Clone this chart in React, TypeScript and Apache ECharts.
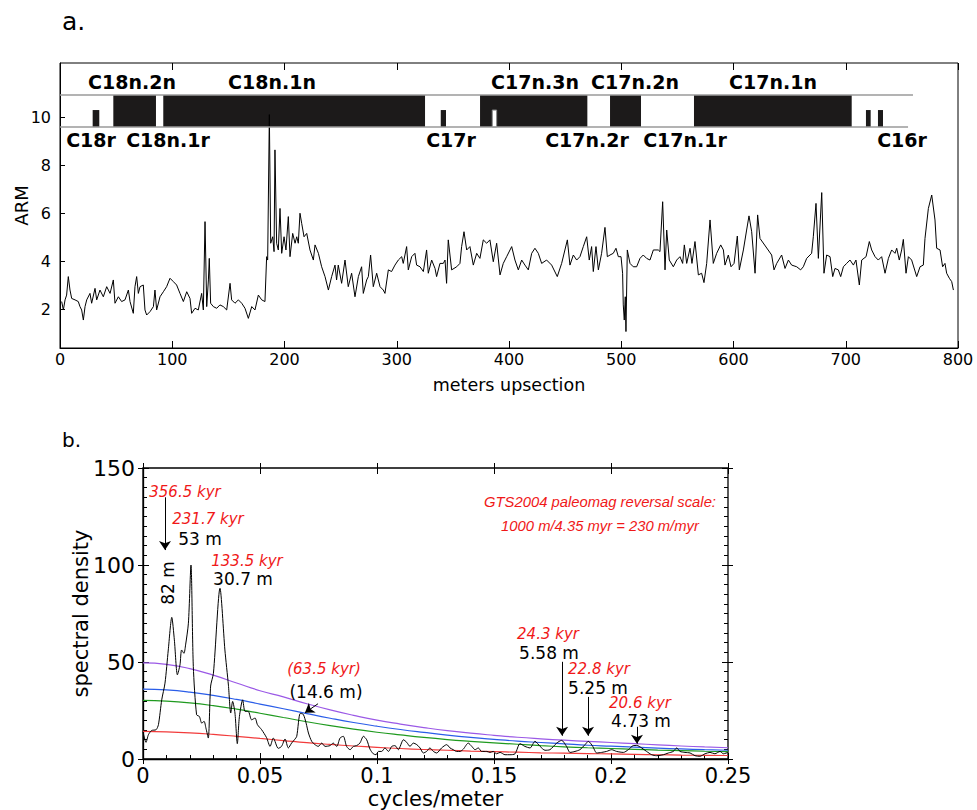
import React, { useEffect, useRef } from "react";
import * as echarts from "echarts";

const FONT = "DejaVu Sans";
const NOTE_FONT = "Liberation Sans";

// ---------- panel a: ARM versus meters upsection ----------
const armDepth = [
  1.5, 3.0, 4.5, 5.9, 7.4, 8.9, 10.4, 13.4, 16.3, 17.8, 19.3, 20.8, 22.3, 23.8, 26.7, 28.2, 31.2, 32.7, 35.6, 38.6,
  41.6, 44.6, 47.5, 49.0, 52.0, 54.9, 57.9, 60.9, 62.4, 65.3, 66.8, 68.3, 69.8, 71.3, 74.2, 75.7, 77.2, 80.2, 83.2, 84.6,
  86.1, 89.1, 92.1, 95.0, 98.0, 101.0, 103.9, 106.9, 109.9, 112.9, 115.8, 117.3, 120.3, 123.2, 126.2, 127.7, 129.2, 130.7, 132.2, 133.0,
  134.2, 136.6, 139.6, 142.5, 145.5, 148.5, 151.5, 152.9, 155.9, 158.9, 161.9, 164.8, 167.8, 170.8, 173.7, 176.7, 179.7, 182.6, 184.1, 185.0,
  186.5, 187.7, 189.5, 190.7, 191.5, 193.0, 194.5, 196.0, 197.5, 199.6, 201.3, 203.4, 204.9, 207.3, 209.4, 210.9, 212.3, 213.8, 215.3, 217.4,
  219.8, 222.7, 225.7, 227.2, 230.2, 233.1, 236.1, 239.1,
  242.0, 245.0, 246.4, 247.9, 250.9, 253.9, 256.8, 259.8, 262.8, 265.8, 268.7, 270.2, 273.2, 274.7, 276.7, 279.1, 282.1, 285.1, 288.0, 289.5,
  292.5, 295.4, 298.4, 301.4, 304.4, 305.8, 308.8, 310.3, 313.3, 316.2, 317.7, 320.7, 323.7, 326.6, 328.1, 331.1, 334.1, 335.5, 338.5, 341.5,
  343.0, 344.4, 345.9, 348.9, 353.4, 356.3, 357.8, 359.9, 362.3, 365.2, 368.2, 371.2, 374.1, 377.1, 380.1, 383.0, 386.0, 389.0, 392.0, 394.9,
  397.9, 402.4, 405.3, 408.3, 411.3, 414.2, 417.2, 420.2, 423.1, 426.1, 429.1, 433.5, 438.0, 443.0, 446.9, 452.0, 454.3, 457.3, 460.3, 463.2,
  466.2, 469.2, 471.5, 473.6, 475.1, 477.5, 479.6, 482.5, 485.5, 487.6, 490.0, 492.9, 495.3, 497.4, 499.8, 501.2, 501.8, 502.7, 503.6, 504.2,
  505.4, 507.8, 510.7, 513.7, 516.7, 519.6, 522.6, 525.6,
  528.6, 533.0, 534.5, 536.9, 539.0, 540.5, 542.8, 546.4, 549.4, 552.3, 554.7, 556.2, 558.3, 561.3, 563.0, 565.7, 568.7, 571.6, 573.7, 576.1,
  579.1, 582.0, 585.0, 588.6, 591.0, 592.4, 595.4, 597.8, 600.5, 603.4, 605.2, 608.8, 611.7, 613.8, 616.2, 619.2, 621.5, 623.6, 634.0, 636.1,
  638.5, 642.9, 645.9, 648.9, 651.8, 656.3, 659.8, 662.2, 665.2, 669.6, 671.1, 673.5, 675.6, 678.6, 680.6, 683.0, 686.0, 688.4, 690.4, 693.4,
  695.5, 697.9, 700.8, 703.8, 706.8, 709.1, 712.1, 714.2, 718.1, 721.0, 723.1, 726.1, 729.0, 732.0, 735.0, 738.0, 740.9, 743.9, 745.4, 747.7,
  749.8, 751.3, 753.7, 755.8, 758.7, 763.2, 766.2, 769.1, 770.6, 773.6, 776.6, 779.5, 781.0, 784.0, 786.3, 788.4, 789.9, 792.3, 794.4, 795.9,
];
const armValue = [
  2.31, 1.96, 2.38, 2.58, 3.35, 2.79, 2.44, 2.38, 2.31, 2.10, 1.96, 1.54, 2.10, 2.38, 2.65, 2.24, 2.86, 2.38, 2.79, 2.51,
  2.93, 2.65, 3.21, 2.24, 2.51, 2.31, 2.38, 2.79, 2.31, 1.82, 2.93, 3.35, 2.65, 2.93, 3.00, 1.96, 1.75, 1.89, 2.10, 2.79,
  1.96, 2.51, 2.72, 2.93, 3.28, 3.14, 3.00, 2.65, 2.31, 2.72, 2.44, 1.82, 2.03, 1.96, 2.65, 1.96, 5.64, 2.10, 3.21, 4.11,
  2.24, 2.10, 2.03, 2.17, 2.10, 1.96, 3.07, 2.38, 2.24, 2.38, 2.24, 2.03, 1.61, 2.10, 1.96, 2.58, 2.38, 2.31, 4.18, 4.04,
  10.1, 4.74, 5.01, 4.39, 8.63, 4.74, 4.46, 6.19, 4.32, 5.01, 4.46, 5.85, 4.18, 5.15, 4.74, 5.01, 4.74, 5.99, 5.57, 5.01,
  5.15, 4.46, 4.04, 4.67, 4.32, 3.76, 3.35, 2.79,
  3.35, 3.83, 3.21, 3.83, 3.07, 4.04, 2.93, 3.49, 2.51, 3.35, 3.76, 2.65, 3.21, 3.35, 4.25, 2.93, 3.49, 2.93, 2.79, 2.65,
  3.63, 3.56, 3.83, 4.04, 4.18, 3.90, 4.60, 3.63, 4.18, 4.32, 3.83, 3.76, 3.56, 4.46, 3.49, 4.04, 3.69, 3.35, 3.90, 3.90,
  4.04, 3.07, 4.88, 3.63, 3.76, 3.90, 4.60, 5.22, 4.46, 4.60, 3.83, 4.32, 4.11, 4.88, 4.74, 4.88, 3.97, 4.74, 3.42, 3.90,
  4.18, 4.60, 4.04, 3.63, 4.04, 3.83, 3.63, 4.32, 4.53, 4.32, 3.90, 4.04, 3.83, 3.35, 3.90, 4.88, 3.83, 4.25, 4.04, 4.18,
  4.60, 5.01, 4.04, 4.60, 3.56, 4.60, 3.63, 4.32, 5.40, 4.18, 4.25, 4.32, 4.53, 4.18, 4.18, 3.49, 2.17, 1.54, 2.51, 1.06,
  4.46, 3.90, 3.76, 3.76, 4.11, 4.25, 4.11, 4.04,
  4.46, 4.46, 4.39, 6.47, 3.63, 5.29, 4.04, 3.76, 4.04, 4.18, 3.90, 4.67, 3.90, 4.53, 3.90, 4.81, 3.42, 3.49, 3.10, 3.90,
  5.71, 3.90, 4.32, 4.67, 4.46, 3.83, 4.25, 3.76, 3.90, 5.04, 3.63, 4.46, 5.29, 5.88, 5.22, 3.49, 5.92, 4.94, 4.25, 3.63,
  3.90, 4.25, 3.69, 4.04, 3.83, 3.76, 3.63, 3.76, 4.11, 4.32, 5.01, 6.40, 4.11, 6.85, 3.49, 4.25, 4.18, 3.35, 3.69, 3.63,
  3.35, 3.76, 3.90, 4.04, 3.83, 4.04, 3.00, 4.04, 4.18, 4.81, 4.46, 4.18, 4.04, 4.18, 3.49, 4.11, 4.46, 4.32, 4.53, 4.04,
  4.46, 4.90, 3.49, 4.18, 4.04, 3.35, 3.76, 3.83, 4.94, 6.19, 6.75, 5.71, 4.53, 4.46, 3.76, 3.90, 3.49, 3.28, 3.14, 2.79,
];
const armTickValues = [2, 4, 6, 8, 10];

// polarity column (meters)
const normalChrons = [[47.5, 85.5], [92.0, 325.2], [374.2, 469.8], [490.0, 517.6], [564.8, 705.3]];
const shortNormalEvents = [[29.1, 35.0], [339.2, 343.9], [718.0, 722.2], [728.7, 733.2]];
const shortReversedEvents = [[385.1, 389.0]];
const polarityBottom = 9.58;
const polarityTop = 10.92;
const shortEventTop = 10.29;
const polarityEndTop = 759.9;
const polarityEndBottom = 755.5;
const chronLabelsAbove = ["C18n.2n", "C18n.1n", "C17n.3n", "C17n.2n", "C17n.1n"];
const chronLabelsBelow = ["C18r", "C18n.1r", "C17r", "C17n.2r", "C17n.1r", "C16r"];

// ---------- panel b: spectrum ----------
const specFreq = [
  0, 0.0013, 0.0023, 0.0037, 0.0056, 0.0066, 0.008, 0.0094, 0.0108, 0.0123, 0.0134, 0.0147, 0.0158, 0.0165, 0.0175, 0.0182,
  0.0194, 0.0205, 0.0215, 0.0229, 0.0241, 0.0251, 0.0261, 0.0269, 0.0279, 0.0289, 0.0301, 0.0329, 0.035, 0.0365, 0.0375, 0.0383,
  0.0393, 0.0403, 0.0412, 0.0426, 0.0436, 0.045, 0.0464, 0.0479, 0.0489, 0.0507, 0.0528, 0.0543, 0.0557, 0.0578, 0.0592, 0.0607,
  0.0621, 0.0635, 0.0647, 0.0657, 0.0672, 0.0685, 0.0697, 0.0707, 0.0721, 0.0735, 0.0749, 0.0764, 0.0778, 0.0799, 0.0813, 0.0828,
  0.0842, 0.0856, 0.087, 0.0885, 0.0899, 0.0913, 0.0927, 0.0942, 0.0956, 0.097, 0.0984, 0.0996, 0.1006, 0.102, 0.1034, 0.1049,
  0.1063, 0.1077, 0.1091, 0.1113, 0.1127, 0.1141, 0.1155, 0.117, 0.1184, 0.1198, 0.1212, 0.1226, 0.1241, 0.1255, 0.1276, 0.1298,
  0.1312, 0.1326, 0.134, 0.1355, 0.1369, 0.139, 0.1405, 0.1419, 0.1433, 0.1447, 0.1469, 0.1483, 0.1497, 0.1511, 0.1526, 0.1547,
  0.1568, 0.159, 0.1611, 0.1632, 0.1654, 0.1675, 0.1697, 0.1718, 0.1739, 0.1768, 0.1789, 0.181, 0.1825, 0.1846, 0.1867, 0.1889,
  0.1903, 0.1922, 0.1939, 0.196, 0.1981, 0.2003, 0.2024, 0.2053, 0.2074, 0.2095, 0.211, 0.2131, 0.2152, 0.2174, 0.2195, 0.2224,
  0.2245, 0.2266, 0.2281, 0.2295, 0.2316, 0.2338, 0.2359, 0.238, 0.2402, 0.2423, 0.2444, 0.2466, 0.248, 0.25,
];
const specDensity = [
  14.0, 8.6, 12.5, 14.7, 15.1, 17.7, 30.5, 39.1, 56.2, 73.0, 61.4, 43.4, 48.5, 56.2, 54.5, 58.8,
  70.0, 100.0, 47.7, 22.8, 21.9, 18.5, 19.4, 15.9, 10.8, 37.6, 44.2, 88.0, 56.2, 38.1, 23.7, 29.7,
  23.7, 7.9, 21.9, 30.5, 24.5, 24.5, 20.2, 21.1, 17.7, 15.1, 11.0, 6.5, 10.8, 5.5, 6.5, 10.3,
  5.7, 8.2, 9.9, 11.7, 23.5, 23.0, 18.5, 13.4, 9.1, 7.4, 6.5, 8.2, 6.5, 6.9, 8.2, 6.5,
  10.8, 11.7, 6.5, 4.8, 6.5, 6.9, 8.2, 11.7, 9.9, 5.1, 2.7, 2.2, 3.9, 3.9, 5.7, 3.9,
  6.5, 6.9, 4.8, 9.9, 8.6, 6.5, 8.2, 7.4, 5.7, 3.1, 3.9, 5.7, 3.9, 3.1, 5.7, 7.4,
  5.7, 4.8, 3.9, 3.9, 5.1, 8.2, 6.5, 4.8, 5.7, 3.9, 3.9, 3.4, 3.9, 2.7, 3.4, 2.2,
  2.2, 2.7, 7.9, 6.5, 5.7, 9.1, 6.5, 4.5, 4.8, 8.2, 9.6, 6.5, 3.4, 3.9, 4.8, 7.4,
  9.1, 6.5, 3.1, 3.4, 3.9, 4.8, 3.9, 3.4, 4.8, 6.9, 7.0, 5.7, 3.9, 2.2, 1.7, 2.2,
  3.1, 3.9, 5.7, 3.9, 3.4, 3.1, 1.7, 1.4, 2.7, 3.4, 2.7, 3.9, 2.7, 3.4,
];
const confFreq = [0, 0.01, 0.02, 0.03, 0.04, 0.05, 0.06, 0.07, 0.08, 0.09, 0.1, 0.11, 0.12, 0.13, 0.14, 0.15, 0.16, 0.17, 0.18, 0.19, 0.2, 0.21, 0.22, 0.23, 0.24, 0.25];
const confPurple = [49.5, 48.8, 46.6, 43.2, 39.2, 35.2, 32.0, 28.5, 25.3, 22.5, 20.0, 18.0, 16.2, 14.6, 13.3, 12.2, 11.2, 10.4, 9.7, 9.1, 8.5, 7.9, 7.3, 6.7, 6.2, 5.8];
const confBlue = [36.0, 35.6, 34.5, 32.8, 30.7, 28.3, 25.9, 23.4, 21.0, 18.8, 16.9, 15.2, 13.7, 12.3, 11.1, 10.1, 9.2, 8.5, 7.8, 7.1, 6.6, 6.1, 5.6, 5.2, 4.8, 4.5];
const confGreen = [30.2, 29.8, 28.9, 27.5, 25.7, 23.6, 21.4, 19.2, 17.2, 15.4, 13.8, 12.4, 11.1, 10.0, 9.1, 8.3, 7.6, 6.9, 6.3, 5.8, 5.4, 5.0, 4.6, 4.3, 4.0, 3.8];
const confRed = [14.2, 14.0, 13.5, 12.7, 11.7, 10.6, 9.5, 8.4, 7.5, 6.7, 6.0, 5.4, 4.9, 4.5, 4.1, 3.8, 3.5, 3.2, 3.0, 2.8, 2.6, 2.4, 2.2, 2.0, 1.9, 1.8];

// arrows: [fromFreq, fromDensity, toFreq, toDensity]
const arrowSegments = [
  [0.0094, 134.9, 0.0094, 107.7],
  [0.0748, 28.5, 0.0692, 23.8],
  [0.1791, 50.1, 0.1791, 12.0],
  [0.1902, 32.0, 0.1902, 12.0],
  [0.2111, 16.6, 0.2111, 7.9],
];

const RED = "#f01818";

function txt(text: string, x: number, y: number, size: number, opts: any = {}) {
  return {
    type: "text",
    x,
    y,
    rotation: opts.rotation || 0,
    silent: true,
    z: 100,
    style: {
      text,
      fill: opts.color || "#000",
      fontSize: size,
      fontFamily: opts.family || FONT,
      fontStyle: opts.italic ? "italic" : "normal",
      fontWeight: opts.bold ? "bold" : "normal",
      align: opts.align || "center",
      verticalAlign: "middle",
    },
  };
}

function zip(a: number[], b: number[]) {
  return a.map((v, i) => [v, b[i]]);
}

export default function App() {
  const ref = useRef<HTMLDivElement>(null);

  useEffect(() => {
    if (!ref.current) return;
    const chart = echarts.init(ref.current, null, { renderer: "svg" });

    const barAreas: any[] = [];
    normalChrons.forEach(([a, b]) =>
      barAreas.push([{ coord: [a, polarityBottom], itemStyle: { color: "#1c1a1a", opacity: 1 } }, { coord: [b, polarityTop] }])
    );
    shortNormalEvents.forEach(([a, b]) =>
      barAreas.push([{ coord: [a, polarityBottom], itemStyle: { color: "#1c1a1a", opacity: 1 } }, { coord: [b, shortEventTop] }])
    );
    shortReversedEvents.forEach(([a, b]) =>
      barAreas.push([
        { coord: [a, polarityBottom], itemStyle: { color: "#ffffff", opacity: 1, borderColor: "#888", borderWidth: 1 } },
        { coord: [b, shortEventTop] },
      ])
    );

    const blackAxis = { color: "#000", width: 1 };
    const hidden = { show: false };

    const option: any = {
      animation: false,
      backgroundColor: "#ffffff",
      textStyle: { fontFamily: FONT, color: "#000" },
      grid: [
        { left: 60, top: 63, width: 898, height: 285, show: true, borderColor: "#000", borderWidth: 1, containLabel: false, outerBoundsMode: "none" },
        { left: 143, top: 468, width: 585, height: 291, show: true, borderColor: "#000", borderWidth: 1.3, containLabel: false, outerBoundsMode: "none" },
      ],
      xAxis: [
        {
          type: "value", gridIndex: 0, min: 0, max: 800, interval: 100, position: "bottom",
          axisLine: { show: true, onZero: false, lineStyle: blackAxis },
          axisTick: { show: true, inside: true, length: 7, lineStyle: blackAxis },
          axisLabel: { color: "#000", fontSize: 16, margin: 3, fontFamily: FONT },
          splitLine: hidden,
          name: "meters upsection", nameLocation: "middle", nameGap: 28, nameMoveOverlap: false,
          nameTextStyle: { color: "#000", fontSize: 17.5, fontFamily: FONT },
        },
        {
          type: "value", gridIndex: 0, min: 0, max: 800, interval: 100, position: "top",
          axisLine: { show: false, onZero: false },
          axisTick: { show: true, inside: true, length: 7, lineStyle: blackAxis },
          axisLabel: hidden, splitLine: hidden,
        },
        {
          type: "value", gridIndex: 1, min: 0, max: 0.25, interval: 0.05, position: "bottom",
          axisLine: { show: true, onZero: false, lineStyle: { color: "#000", width: 1.3 } },
          axisTick: { show: true, inside: true, length: 6, lineStyle: blackAxis },
          minorTick: { show: true, splitNumber: 5, length: 4, lineStyle: blackAxis },
          axisLabel: { color: "#000", fontSize: 21, margin: 6, fontFamily: FONT },
          splitLine: hidden,
          name: "cycles/meter", nameLocation: "middle", nameGap: 29, nameMoveOverlap: false,
          nameTextStyle: { color: "#000", fontSize: 21, fontFamily: FONT },
        },
        {
          type: "value", gridIndex: 1, min: 0, max: 0.25, interval: 0.05, position: "bottom",
          axisLine: { show: false, onZero: false },
          axisTick: { show: true, inside: false, length: 5, lineStyle: blackAxis },
          axisLabel: hidden, splitLine: hidden,
        },
        {
          type: "value", gridIndex: 1, min: 0, max: 0.25, interval: 0.05, position: "top",
          axisLine: { show: false, onZero: false },
          axisTick: { show: true, inside: true, length: 6, lineStyle: blackAxis },
          axisLabel: hidden, splitLine: hidden,
        },
        {
          type: "value", gridIndex: 1, min: 0, max: 0.25, interval: 0.05, position: "top",
          axisLine: { show: false, onZero: false },
          axisTick: { show: true, inside: false, length: 5, lineStyle: blackAxis },
          axisLabel: hidden, splitLine: hidden,
        },
      ],
      yAxis: [
        {
          type: "value", gridIndex: 0, min: 0.375, max: 12.25, position: "left",
          axisLine: { show: true, onZero: false, lineStyle: blackAxis },
          axisTick: { show: true, inside: true, length: 5, lineStyle: blackAxis, customValues: armTickValues },
          axisLabel: { color: "#000", fontSize: 16, margin: 9, fontFamily: FONT, customValues: armTickValues },
          splitLine: hidden,
          name: "ARM", nameLocation: "middle", nameGap: 30, nameMoveOverlap: false,
          nameTextStyle: { color: "#000", fontSize: 18, fontFamily: FONT },
        },
        {
          type: "value", gridIndex: 1, min: 0, max: 150, interval: 50, position: "left",
          axisLine: { show: true, onZero: false, lineStyle: { color: "#000", width: 1.3 } },
          axisTick: { show: true, inside: true, length: 6, lineStyle: blackAxis },
          minorTick: { show: true, splitNumber: 10, length: 4, lineStyle: blackAxis },
          axisLabel: { color: "#000", fontSize: 22, margin: 8, fontFamily: FONT },
          splitLine: hidden,
          name: "spectral density", nameLocation: "middle", nameGap: 52, nameMoveOverlap: false,
          nameTextStyle: { color: "#000", fontSize: 21, fontFamily: FONT },
        },
        {
          type: "value", gridIndex: 1, min: 0, max: 150, interval: 50, position: "left",
          axisLine: { show: false, onZero: false },
          axisTick: { show: true, inside: false, length: 5, lineStyle: blackAxis },
          axisLabel: hidden, splitLine: hidden,
        },
        {
          type: "value", gridIndex: 1, min: 0, max: 150, interval: 50, position: "right",
          axisLine: { show: false, onZero: false },
          axisTick: { show: true, inside: true, length: 6, lineStyle: blackAxis },
          minorTick: { show: true, splitNumber: 10, length: 4, lineStyle: blackAxis },
          axisLabel: hidden, splitLine: hidden,
        },
        {
          type: "value", gridIndex: 1, min: 0, max: 150, interval: 50, position: "right",
          axisLine: { show: false, onZero: false },
          axisTick: { show: true, inside: false, length: 5, lineStyle: blackAxis },
          axisLabel: hidden, splitLine: hidden,
        },
      ],
      series: [
        {
          type: "line", name: "ARM", xAxisIndex: 0, yAxisIndex: 0,
          data: zip(armDepth, armValue),
          symbol: "none", showSymbol: false,
          lineStyle: { color: "#000", width: 1 },
          z: 3,
          markArea: { silent: true, label: { show: false }, itemStyle: { color: "#1c1a1a", opacity: 1 }, data: barAreas },
          markLine: {
            silent: true, symbol: ["none", "none"], label: { show: false },
            lineStyle: { color: "#9a9a9a", width: 1.5, type: "solid" },
            data: [
              [{ coord: [0, polarityTop] }, { coord: [polarityEndTop, polarityTop] }],
              [{ coord: [0, polarityBottom] }, { coord: [polarityEndBottom, polarityBottom] }],
            ],
          },
        },
        { type: "line", xAxisIndex: 2, yAxisIndex: 1, data: zip(confFreq, confPurple), smooth: true, symbol: "none", lineStyle: { color: "#9b59e6", width: 1.2 } },
        { type: "line", xAxisIndex: 2, yAxisIndex: 1, data: zip(confFreq, confBlue), smooth: true, symbol: "none", lineStyle: { color: "#2a5de8", width: 1.2 } },
        { type: "line", xAxisIndex: 2, yAxisIndex: 1, data: zip(confFreq, confGreen), smooth: true, symbol: "none", lineStyle: { color: "#1f9a1f", width: 1.2 } },
        { type: "line", xAxisIndex: 2, yAxisIndex: 1, data: zip(confFreq, confRed), smooth: true, symbol: "none", lineStyle: { color: "#f23b3b", width: 1.2 } },
        {
          type: "line", xAxisIndex: 2, yAxisIndex: 1, data: zip(specFreq, specDensity),
          smooth: 0.25, symbol: "none", lineStyle: { color: "#000", width: 1 }, z: 5,
          markLine: {
            silent: true, symbol: ["none", "arrow"], symbolSize: 9, label: { show: false },
            lineStyle: { color: "#000", width: 1, type: "solid" },
            data: arrowSegments.map(([f1, s1, f2, s2]) => [{ coord: [f1, s1] }, { coord: [f2, s2] }]),
          },
        },
      ],
      graphic: [
        txt("a.", 62, 21, 25, { align: "left" }),
        txt(chronLabelsAbove[0], 132, 82, 19, { bold: true }),
        txt(chronLabelsAbove[1], 272, 82, 19, { bold: true }),
        txt(chronLabelsAbove[2], 535, 82, 19, { bold: true }),
        txt(chronLabelsAbove[3], 635, 82, 19, { bold: true }),
        txt(chronLabelsAbove[4], 773, 82, 19, { bold: true }),
        txt(chronLabelsBelow[0], 91, 140, 19, { bold: true }),
        txt(chronLabelsBelow[1], 168, 140, 19, { bold: true }),
        txt(chronLabelsBelow[2], 451, 140, 19, { bold: true }),
        txt(chronLabelsBelow[3], 587, 140, 19, { bold: true }),
        txt(chronLabelsBelow[4], 685, 140, 19, { bold: true }),
        txt(chronLabelsBelow[5], 902, 140, 19, { bold: true }),
        txt("b.", 62, 440, 20, { align: "left" }),
        txt("356.5 kyr", 185, 492, 15, { italic: true, color: RED }),
        txt("231.7 kyr", 208, 519, 15, { italic: true, color: RED }),
        txt("53 m", 200, 539, 17),
        txt("82 m", 168, 583, 17, { rotation: Math.PI / 2 }),
        txt("133.5 kyr", 247, 561, 15, { italic: true, color: RED }),
        txt("30.7 m", 243, 579, 17),
        txt("(63.5 kyr)", 324, 669, 15, { italic: true, color: RED }),
        txt("(14.6 m)", 326, 692, 17),
        txt("24.3 kyr", 548, 634, 15, { italic: true, color: RED }),
        txt("5.58 m", 549, 653, 17),
        txt("22.8 kyr", 599, 669, 15, { italic: true, color: RED }),
        txt("5.25 m", 598, 688, 17),
        txt("20.6 kyr", 640, 703, 15, { italic: true, color: RED }),
        txt("4.73 m", 641, 721, 17),
        txt("GTS2004 paleomag reversal scale:", 600, 502, 14.8, { italic: true, color: RED, family: NOTE_FONT }),
        txt("1000 m/4.35 myr = 230 m/myr", 600, 526, 14.8, { italic: true, color: RED, family: NOTE_FONT }),
      ],
    };

    chart.setOption(option);
    return () => chart.dispose();
  }, []);

  return (
    <div
      ref={ref}
      style={{ position: "fixed", left: 0, top: 0, width: 977, height: 810, background: "#fff" }}
    />
  );
}
